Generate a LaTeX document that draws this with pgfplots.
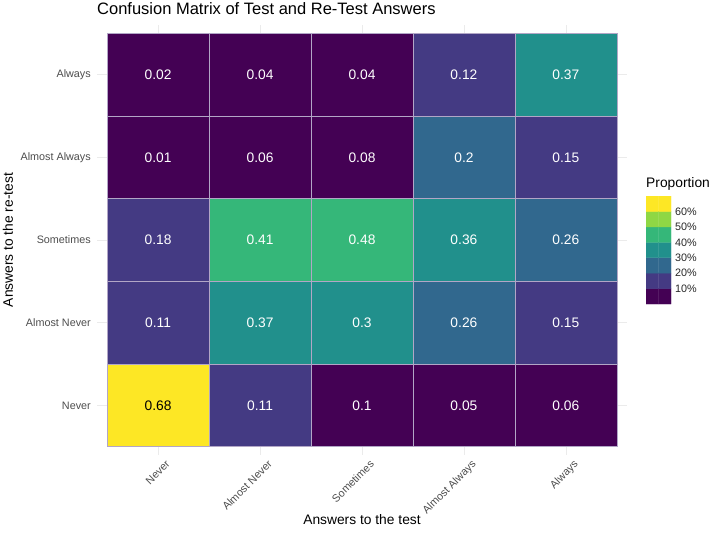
\documentclass[border=0pt]{standalone}
\usepackage{pgfplots}
\pgfplotsset{compat=1.18}
\usepackage{pgfplotstable}
\usepackage{fontspec}
\setmainfont{Liberation Sans}

\definecolor{gridgray}{RGB}{235,235,235}
\definecolor{ticktext}{RGB}{77,77,77}
\definecolor{tileedge}{RGB}{178,166,198}

% binned viridis, one colour per 10% band
\pgfplotsset{
  colormap={virbin}{
    rgb255(0cm)=(68,1,84);
    rgb255(1cm)=(68,58,131);
    rgb255(2cm)=(49,104,142);
    rgb255(3cm)=(33,144,140);
    rgb255(4cm)=(53,183,121);
    rgb255(5cm)=(143,215,68);
    rgb255(6cm)=(253,231,37);
    rgb255(7cm)=(253,231,37)
  },
  celllabel/.style={draw=none, mark=none, point meta=explicit,
    nodes near coords={\pgfmathprintnumber[fixed, precision=2,
      assume math mode=true]{\pgfplotspointmeta}},
    every node near coord/.append style={anchor=center,
      font=\fontsize{13.8}{16}\selectfont},
  },
}

% x: answer to the test, y: answer to the re-test, v: proportion
\pgfplotstableread{
x y v
0 0 0.68
1 0 0.11
2 0 0.098
3 0 0.05
4 0 0.06
0 1 0.11
1 1 0.37
2 1 0.30
3 1 0.26
4 1 0.15
0 2 0.18
1 2 0.41
2 2 0.48
3 2 0.36
4 2 0.26
0 3 0.01
1 3 0.06
2 3 0.08
3 3 0.20
4 3 0.15
0 4 0.02
1 4 0.04
2 4 0.04
3 4 0.12
4 4 0.37
}\tiles

% legend keys: one cell per band, two columns wide
\pgfplotstableread{
x y v
0 0.05 0.05
1 0.05 0.05
0 0.15 0.15
1 0.15 0.15
0 0.25 0.25
1 0.25 0.25
0 0.35 0.35
1 0.35 0.35
0 0.45 0.45
1 0.45 0.45
0 0.55 0.55
1 0.55 0.55
0 0.65 0.65
1 0.65 0.65
}\keys

\begin{document}
\begin{tikzpicture}
\useasboundingbox (0,0) rectangle (714pt,536pt);

\begin{axis}[
  at={(97pt,81pt)}, anchor=south west,
  width=530pt, height=430pt, scale only axis,
  xmin=-0.6, xmax=4.6, ymin=-0.6, ymax=4.6,
  axis on top=false,
  colormap name=virbin,
  colormap access=piecewise constant,
  point meta min=-0.0005, point meta max=0.6995,
  axis line style={draw=none},
  major tick length=0pt,
  grid=major,
  major grid style={gridgray, line width=0.6pt},
  xtick={0,1,2,3,4},
  ytick={0,1,2,3,4},
  xticklabels={Never, Almost Never, Sometimes, Almost Always, Always},
  yticklabels={Never, Almost Never, Sometimes, Almost Always, Always},
  xticklabel style={font=\fontsize{10.8}{12}\selectfont, text=ticktext,
    rotate=45, anchor=north east, inner sep=0pt, xshift=2pt, yshift=-8pt},
  yticklabel style={font=\fontsize{10.8}{12}\selectfont, text=ticktext,
    anchor=east, inner sep=0pt, xshift=-6pt},
  xlabel={Answers to the test},
  ylabel={Answers to the re-test},
  xlabel style={font=\fontsize{13.8}{16}\selectfont,
    at={(axis description cs:0.5,-0.1512)}, anchor=center},
  ylabel style={font=\fontsize{13.8}{16}\selectfont,
    at={(axis description cs:-0.1679,0.5)}, anchor=center},
  title={Confusion Matrix of Test and Re-Test Answers},
  every axis title/.style={font=\fontsize{16.5}{19}\selectfont,
    at={(axis description cs:0,1.0233)}, anchor=base west, inner sep=0pt},
]
\addplot[matrix plot*, shader=faceted, mesh/cols=5, mesh/rows=5,
  point meta=explicit, faceted color=tileedge, line width=0.5pt]
  table[x=x, y=y, meta=v] {\tiles};

% white labels on the darker bands, black on the brightest one
\addplot[celllabel, every node near coord/.append style={text=white},
  y filter/.expression={\thisrow{v}>0.6 ? nan : y}]
  table[x=x, y=y, meta=v] {\tiles};
\addplot[celllabel, every node near coord/.append style={text=black},
  y filter/.expression={\thisrow{v}>0.6 ? y : nan}]
  table[x=x, y=y, meta=v] {\tiles};
\end{axis}

\begin{axis}[
  at={(646pt,232pt)}, anchor=south west,
  width=25pt, height=108pt, scale only axis,
  xmin=-0.5, xmax=1.5, ymin=0, ymax=0.7,
  colormap name=virbin,
  colormap access=piecewise constant,
  point meta min=-0.0005, point meta max=0.6995,
  axis line style={draw=none},
  major tick length=0pt,
  xtick=\empty,
  ytick={0.1,0.2,0.3,0.4,0.5,0.6},
  yticklabels={10\%,20\%,30\%,40\%,50\%,60\%},
  yticklabel pos=right,
  yticklabel style={font=\fontsize{10.8}{12}\selectfont, text=black!85,
    anchor=west, inner sep=0pt, xshift=4pt},
  title={Proportion},
  every axis title/.style={font=\fontsize{13.8}{16}\selectfont,
    at={(axis description cs:0,1)}, anchor=base west, inner sep=0pt, yshift=9pt},
]
\addplot[matrix plot*, mesh/cols=2, mesh/rows=7, point meta=explicit]
  table[x=x, y=y, meta=v] {\keys};
\end{axis}
\end{tikzpicture}
\end{document}
